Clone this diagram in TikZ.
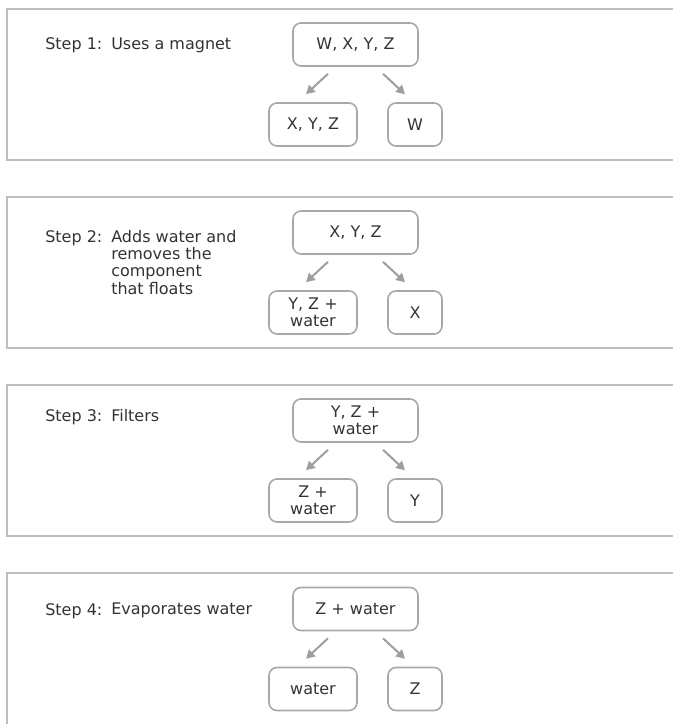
\documentclass[tikz,border=0pt]{standalone}
\usepackage{fontspec}
\setmainfont{DejaVu Sans}
\usetikzlibrary{arrows.meta}
\definecolor{framegray}{HTML}{BEBEBE}
\definecolor{boxgray}{HTML}{A8A8A8}
\definecolor{arrowgray}{HTML}{9E9E9E}
\definecolor{textgray}{HTML}{333333}
\tikzset{
  panel/.style={draw=framegray, line width=1.5pt},
  steplabel/.style={anchor=base west, inner sep=0pt, text=textgray},
  stepdesc/.style={anchor=north west, inner sep=0pt, align=left, text=textgray},
  mix/.style={draw=boxgray, line width=1.2pt, rounded corners=6pt, align=center,
    text=textgray, minimum height=32.25pt, inner sep=2pt,
    font=\fontsize{12}{13}\selectfont},
  mixtop/.style={mix, minimum width=93.75pt},
  mixleft/.style={mix, minimum width=66pt},
  mixright/.style={mix, minimum width=40.5pt},
  split/.style={draw=arrowgray, line width=1.5pt, -{Triangle[length=6.5pt,width=7pt]}}
}
\begin{document}
\begin{tikzpicture}[x=0.75pt, y=-0.75pt, font=\fontsize{12}{13}\selectfont]
  \useasboundingbox (0,0) rectangle (673,724);
  \clip (0,0) rectangle (673,724);
  \foreach \t/\h in {9/151,197/151,385/151,573/170}
    \draw[panel] (7,\t) rectangle (690,\t+\h);
  \node[steplabel] (s1) at (45,50) {Step 1:};
  \node[stepdesc] (d1) at ([shift={(66,0)}]s1.north west) {Uses a magnet};
  \node[mixtop] (a1) at (355.5,44.5) {W, X, Y, Z};
  \node[mixleft] (b1) at (313,124.5) {X, Y, Z};
  \node[mixright] (c1) at (415,124.5) {W};
  \draw[split] ([shift={(-27.5,7)}]a1.south) -- ([shift={(-7,-8)}]b1.north);
  \draw[split] ([shift={(27.5,7)}]a1.south) -- ([shift={(-10,-8)}]c1.north);
  \node[steplabel] (s2) at (45,242) {Step 2:};
  \node[stepdesc] (d2) at ([shift={(66,0)}]s2.north west)
    {Adds water and\\removes the\\component\\that floats};
  \node[mixtop] (a2) at (355.5,232.5) {X, Y, Z};
  \node[mixleft] (b2) at (313,312.5) {Y, Z +\\water};
  \node[mixright] (c2) at (415,312.5) {X};
  \draw[split] ([shift={(-27.5,7)}]a2.south) -- ([shift={(-7,-8)}]b2.north);
  \draw[split] ([shift={(27.5,7)}]a2.south) -- ([shift={(-10,-8)}]c2.north);
  \node[steplabel] (s3) at (45,421) {Step 3:};
  \node[stepdesc] (d3) at ([shift={(66,0)}]s3.north west) {Filters};
  \node[mixtop] (a3) at (355.5,420.5) {Y, Z +\\water};
  \node[mixleft] (b3) at (313,500.5) {Z +\\water};
  \node[mixright] (c3) at (415,500.5) {Y};
  \draw[split] ([shift={(-27.5,7)}]a3.south) -- ([shift={(-7,-8)}]b3.north);
  \draw[split] ([shift={(27.5,7)}]a3.south) -- ([shift={(-10,-8)}]c3.north);
  \node[steplabel] (s4) at (45,615) {Step 4:};
  \node[stepdesc] (d4) at ([shift={(66,0)}]s4.north west) {Evaporates water};
  \node[mixtop] (a4) at (355.5,609) {Z + water};
  \node[mixleft] (b4) at (313,689) {water};
  \node[mixright] (c4) at (415,689) {Z};
  \draw[split] ([shift={(-27.5,7)}]a4.south) -- ([shift={(-7,-8)}]b4.north);
  \draw[split] ([shift={(27.5,7)}]a4.south) -- ([shift={(-10,-8)}]c4.north);
\end{tikzpicture}
\end{document}
